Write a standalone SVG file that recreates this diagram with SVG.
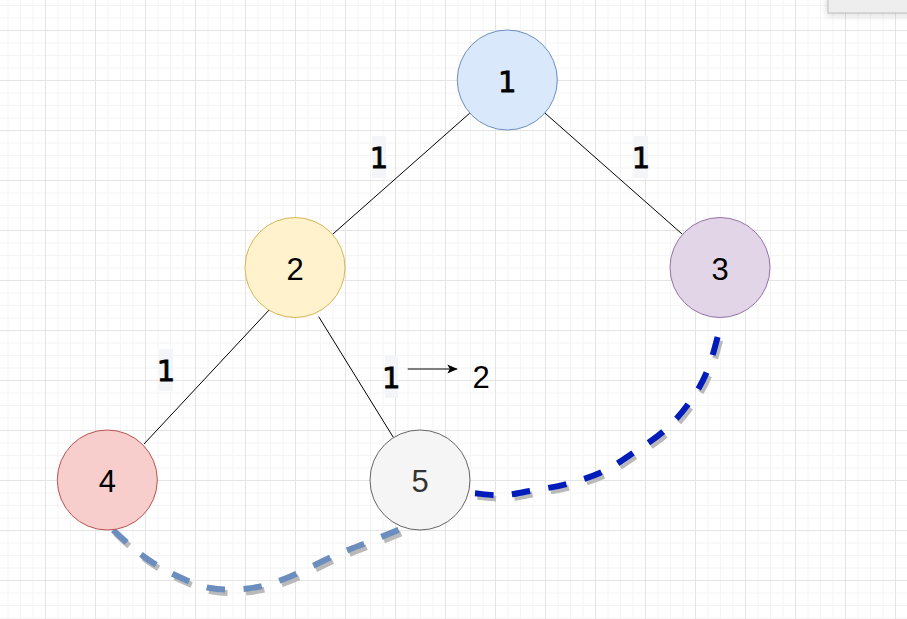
<svg xmlns="http://www.w3.org/2000/svg" width="907" height="619" viewBox="0 0 907 619">
  <style>
    .edge { stroke: #000000; stroke-width: 1; fill: none; }
    .dash { fill: none; stroke-width: 6; stroke-dasharray: 18.5 18.5; stroke-linecap: butt; }
    .shadow { stroke: #b9b9b9; }
    .num { font-family: "Liberation Sans", Arial, sans-serif; font-size: 31px; text-anchor: middle; fill: #000000; }
    .one { font-family: "DejaVu Sans", sans-serif; font-size: 29px; text-anchor: middle; fill: #000000; stroke: #000000; stroke-width: 0.8; }
    .lblbg { fill: #f3f5f8; }
  </style>
  <defs>
    <pattern id="grid" patternUnits="userSpaceOnUse" x="45" y="30" width="50" height="50">
      <path d="M13 0V50M25.5 0V50M38 0V50M0 13H50M0 25.5H50M0 38H50" stroke="#f4f4f4" stroke-width="1" fill="none"/>
      <path d="M0.5 0V50M0 0.5H50" stroke="#e4e4e4" stroke-width="1" fill="none"/>
    </pattern>
    <marker id="arrow" viewBox="0 0 10 10" markerUnits="userSpaceOnUse" markerWidth="10" markerHeight="10" refX="10" refY="5" orient="auto">
      <path d="M0,0.5 L10,5 L0,9.5 L2.5,5 z" fill="#000000"/>
    </marker>
    <filter id="soft" x="-20%" y="-50%" width="140%" height="200%">
      <feGaussianBlur stdDeviation="3"/>
    </filter>
  </defs>

  <rect x="0" y="0" width="907" height="619" fill="#ffffff"/>
  <rect x="0" y="0" width="907" height="619" fill="url(#grid)"/>

  <g id="toolbar">
    <rect x="826" y="-6" width="90" height="22" fill="#000000" opacity="0.12" filter="url(#soft)"/>
    <rect x="828" y="-5" width="85" height="18" fill="#eeeeee" stroke="#bdbdbd" stroke-width="1"/>
  </g>

  <g id="connectors">
    <line class="edge" x1="469.8" y1="113.1" x2="332.5" y2="234.4"/>
    <line class="edge" x1="545" y1="113.1" x2="682.5" y2="234.4"/>
    <line class="edge" x1="270" y1="309" x2="144" y2="444"/>
    <line class="edge" x1="318.7" y1="316.7" x2="393.3" y2="437.3"/>
    <line class="edge" x1="407.7" y1="369" x2="457.3" y2="369" marker-end="url(#arrow)"/>

    <g id="curve-4-5">
      <path class="dash shadow" transform="translate(2.5,3.5)" d="M113,530 C118,534.3 132.7,548.5 143,556 C153.3,563.5 163.8,569.7 175,575 C186.2,580.3 197.8,585.75 210,588 C222.2,590.25 235.7,590 248,588.5 C260.3,587 269.3,584.6 284,579 C298.7,573.4 321.7,561.25 336,555 C350.3,548.75 359.3,545.8 370,541.5 C380.7,537.2 395,531.3 400,529.3"/>
      <path class="dash" stroke="#6c8ebf" d="M113,530 C118,534.3 132.7,548.5 143,556 C153.3,563.5 163.8,569.7 175,575 C186.2,580.3 197.8,585.75 210,588 C222.2,590.25 235.7,590 248,588.5 C260.3,587 269.3,584.6 284,579 C298.7,573.4 321.7,561.25 336,555 C350.3,548.75 359.3,545.8 370,541.5 C380.7,537.2 395,531.3 400,529.3"/>
    </g>
    <g id="curve-5-3">
      <path class="dash shadow" transform="translate(2.5,3.5)" d="M475,493.3 C479.5,493.6 492.8,495.7 502,495.3 C511.2,494.9 519.2,492.9 530,491 C540.8,489.1 554.6,487.2 566.7,484 C578.8,480.8 591.3,477.1 602.7,471.7 C614.1,466.3 624.6,458.65 635,451.7 C645.4,444.75 655.8,438.3 665,430 C674.2,421.7 682.8,412 690,401.7 C697.2,391.4 703,381.9 708.3,368.3 C713.6,354.7 719.7,328 722,320"/>
      <path class="dash" stroke="#001dbc" d="M475,493.3 C479.5,493.6 492.8,495.7 502,495.3 C511.2,494.9 519.2,492.9 530,491 C540.8,489.1 554.6,487.2 566.7,484 C578.8,480.8 591.3,477.1 602.7,471.7 C614.1,466.3 624.6,458.65 635,451.7 C645.4,444.75 655.8,438.3 665,430 C674.2,421.7 682.8,412 690,401.7 C697.2,391.4 703,381.9 708.3,368.3 C713.6,354.7 719.7,328 722,320"/>
    </g>
  </g>

  <g id="edge-labels">
    <g id="label-1-2">
      <rect class="lblbg" x="372" y="136" width="14" height="42"/>
      <text class="one" x="379" y="168">1</text>
    </g>
    <g id="label-1-3">
      <rect class="lblbg" x="634" y="136" width="14" height="42"/>
      <text class="one" x="641" y="168">1</text>
    </g>
    <g id="label-2-4">
      <rect class="lblbg" x="159" y="349" width="14" height="42"/>
      <text class="one" x="166" y="381">1</text>
    </g>
    <g id="label-2-5">
      <rect class="lblbg" x="385" y="355" width="13" height="43"/>
      <text class="one" x="391.3" y="388.3">1</text>
      <text class="num" x="481" y="388.3">2</text>
    </g>
  </g>

  <g id="node1">
    <circle cx="507.3" cy="80" r="50" fill="#dae8fc" stroke="#6c8ebf" stroke-width="1"/>
    <text class="one" x="507.3" y="91.7">1</text>
  </g>
  <g id="node2">
    <circle cx="295" cy="267.5" r="50" fill="#fff2cc" stroke="#d6b656" stroke-width="1"/>
    <text class="num" x="295" y="279.8">2</text>
  </g>
  <g id="node3">
    <circle cx="720" cy="267.5" r="50" fill="#e1d5e7" stroke="#9673a6" stroke-width="1"/>
    <text class="num" x="720" y="279.8">3</text>
  </g>
  <g id="node4">
    <circle cx="107.3" cy="480" r="50" fill="#f8cecc" stroke="#b85450" stroke-width="1"/>
    <text class="num" x="107.3" y="492.3">4</text>
  </g>
  <g id="node5">
    <circle cx="420" cy="480" r="50" fill="#f5f5f5" stroke="#666666" stroke-width="1"/>
    <text class="num" x="420" y="492.3" style="fill:#333333">5</text>
  </g>
</svg>
